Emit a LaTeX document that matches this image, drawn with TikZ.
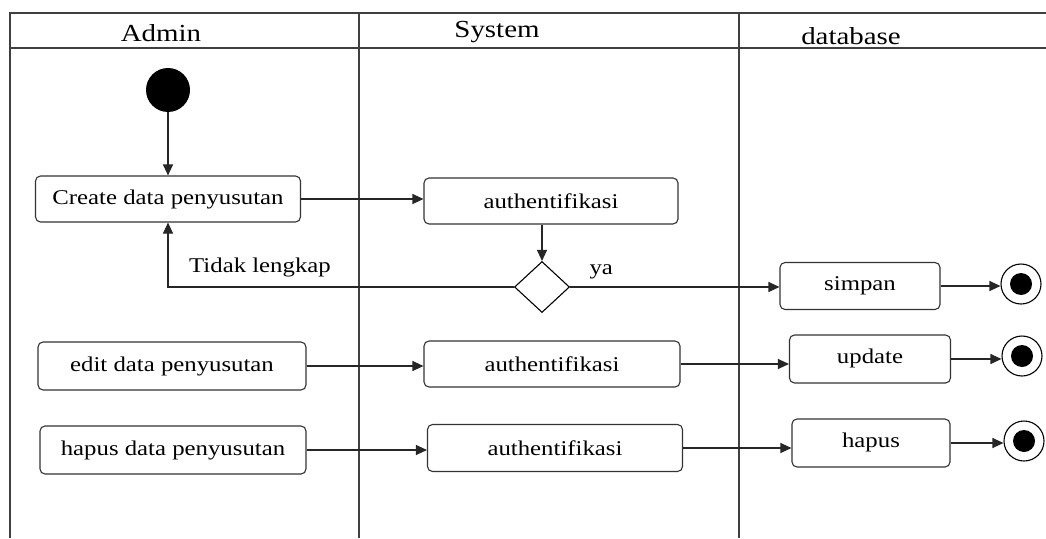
\documentclass[tikz,border=0pt]{standalone}
\usepackage{fontspec}
\setmainfont[FakeStretch=1.18]{Liberation Serif}
\usetikzlibrary{arrows.meta,shapes.geometric}
\begin{document}
\begin{tikzpicture}[x=1pt,y=-1pt,
  lane/.style={draw=black!75,line width=1.3pt},
  act/.style={draw=black!80,line width=1.1pt,rounded corners=5pt,fill=white,font=\fontsize{21}{24}\selectfont,inner sep=0pt},
  hdr/.style={font=\fontsize{24.5}{28}\selectfont},
  lbl/.style={font=\fontsize{21}{24}\selectfont},
  flow/.style={draw=black!85,line width=1.1pt,-{Triangle[length=11pt,width=10pt]}},
  dec/.style={draw=black,line width=1.1pt,diamond,aspect=1.08,minimum width=55pt,minimum height=51pt,inner sep=0pt,fill=white},
  startst/.style={circle,fill=black,minimum size=44pt,inner sep=0pt},
  endouter/.style={circle,draw=black,line width=1.1pt,minimum size=40pt,inner sep=0pt,fill=white},
  endinner/.style={circle,fill=black,minimum size=22pt,inner sep=0pt}]
\useasboundingbox (0,0) rectangle (1046,538);
% swimlanes
\draw[lane] (1046,13) -- (10,13) -- (10,538);
\draw[lane] (10,48) -- (1046,48);
\draw[lane] (359,13) -- (359,538);
\draw[lane] (739,13) -- (739,538);
\node[hdr] (hA) at (161,33) {Admin};
\node[hdr] (hS) at (497,32) {System};
\node[hdr] (hD) at (851,36) {database};
% nodes
\node[startst] (start) at (168,90) {};
\node[act,minimum width=265pt,minimum height=46pt] (create) at (168,199) {Create data penyusutan};
\node[act,minimum width=254pt,minimum height=46pt] (auth1) at (551,201) {authentifikasi};
\node[dec] (d) at (542,287) {};
\node[act,minimum width=160pt,minimum height=47pt] (simpan) at (860,286) {simpan};
\node[endouter] (e1) at (1021,284) {};
\node[endinner] (e1i) at (e1) {};
\node[act,minimum width=268pt,minimum height=48pt] (edit) at (172,366) {edit data penyusutan};
\node[act,minimum width=256pt,minimum height=46pt] (auth2) at (552,364) {authentifikasi};
\node[act,minimum width=161pt,minimum height=48pt] (update) at (870,359) {\raisebox{5pt}{update}};
\node[endouter] (e2) at (1022,356) {};
\node[endinner] (e2i) at (e2) {};
\node[act,minimum width=266pt,minimum height=48pt] (hapusdp) at (173,450) {hapus data penyusutan};
\node[act,minimum width=255pt,minimum height=47pt] (auth3) at (555,448) {authentifikasi};
\node[act,minimum width=158pt,minimum height=48pt] (hapus) at (871,443) {\raisebox{5pt}{hapus}};
\node[endouter] (e3) at (1024,441) {};
\node[endinner] (e3i) at (e3) {};
% connectors
\draw[flow] (start) -- (create);
\draw[flow] (create.east) -- (auth1.west |- create.east);
\draw[flow] (d.north |- auth1.south) -- (d.north);
\draw[flow] (d.west) -| (create.south);
\node[lbl,anchor=south] (tl) at (260,281) {Tidak lengkap};
\draw[flow] (d.east) -- (simpan.west |- d.east);
\node[lbl,anchor=south west] (ya) at (586,283) {ya};
\draw[flow] (simpan.east) -- (e1.west |- simpan.east);
\draw[flow] (edit.east) -- (auth2.west |- edit.east);
\draw[flow] (auth2.east) -- (update.west |- auth2.east);
\draw[flow] (update.east) -- (e2.west |- update.east);
\draw[flow] (hapusdp.east) -- (auth3.west |- hapusdp.east);
\draw[flow] (auth3.east) -- (hapus.west |- auth3.east);
\draw[flow] (hapus.east) -- (e3.west |- hapus.east);
\end{tikzpicture}
\end{document}
